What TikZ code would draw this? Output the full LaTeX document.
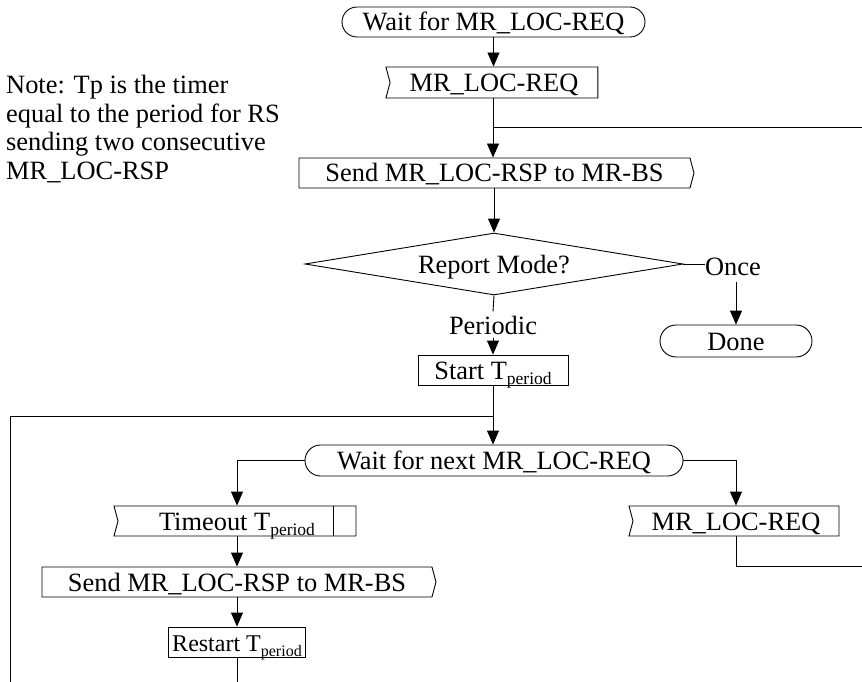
\documentclass[tikz,border=0pt]{standalone}
\usepackage{fontspec}
\setmainfont{Liberation Serif}
\usetikzlibrary{arrows.meta,shapes.misc,shapes.symbols,shapes.geometric,calc}
\newcommand\tsub[1]{\raisebox{-5.5pt}{\fontsize{17.5}{17.5}\selectfont #1}}
\newcommand\tsubs[1]{\raisebox{-5pt}{\fontsize{16}{16}\selectfont #1}}
\begin{document}
\begin{tikzpicture}[x=1pt,y=-1pt,
  every node/.style={font=\fontsize{26.4}{28.5}\selectfont},
  base/.style={draw,line width=0.9pt,inner sep=0pt,text height=23pt,text depth=5pt},
  proc/.style={base,rectangle},
  term/.style={base,rounded rectangle},
  recv/.style={base,signal,signal from=west,signal to=nowhere,signal pointer angle=150},
  sendsig/.style={base,signal,signal to=east,signal from=nowhere,signal pointer angle=150},
  dec/.style={base,diamond,aspect=6},
  lbl/.style={inner xsep=0pt},
  conn/.style={line width=0.9pt},
  arr/.style={conn,-{Triangle[length=14pt,width=12pt]}}
]
\useasboundingbox (0,0) rectangle (862,682);

% note
\node[anchor=north west,inner sep=0pt,align=left] (note) at (6,75)
  {Note: Tp is the timer\\equal to the period for RS\\sending two consecutive\\MR\_LOC-RSP};

% nodes
\node[term,minimum width=303,minimum height=30] (wait1) at (493.5,22) {Wait for MR\_LOC-REQ};
\node[recv,minimum width=212,minimum height=31] (req1) at (494,82.5) {MR\_LOC-REQ};
\node[sendsig,minimum width=395,minimum height=30] (send1) at (494.5,173) {Send MR\_LOC-RSP to MR-BS};
\node[dec,minimum width=378,minimum height=62] (dia) at (494,264) {Report Mode?};
\node[lbl,inner ysep=6pt] (once) at (733,267) {Once};
\node[term,minimum width=152,minimum height=32] (done) at (736,341) {Done};
\node[lbl,inner ysep=4pt] (per) at (493,325) {Periodic};
\node[proc,minimum width=150,minimum height=30] (start) at (493,370) {Start T\tsub{period}};
\node[term,minimum width=378,minimum height=31] (wait2) at (494,460.5) {Wait for next MR\_LOC-REQ};
\node[recv,minimum width=242,minimum height=30] (tout) at (237,521) {Timeout T\tsub{period}};
\node[recv,minimum width=210,minimum height=30] (req2) at (736,521) {MR\_LOC-REQ};
\node[sendsig,minimum width=394,minimum height=30] (send2) at (237,582) {Send MR\_LOC-RSP to MR-BS};
\node[proc,minimum width=102,minimum height=30,inner xsep=4pt,font=\fontsize{24}{26}\selectfont] (restart) at (237,642) {Restart T\tsubs{period}};

% timer mark inside timeout
\draw[conn] ([xshift=-23pt]tout.north east) -- ([xshift=-23pt]tout.south east);

% coordinates
\coordinate (r1) at (493,127);
\coordinate (rt1) at (862,127);
\coordinate (j1) at (493,416);
\coordinate (lc) at (10,416);
\coordinate (lb) at (10,682);
\coordinate (rt2) at (862,566);
\coordinate (bt) at (237,682);

% connectors
\draw[arr] (wait1.south) -- (wait1.south |- req1.north);
\draw[conn] (req1.south -| r1) -- (r1) -- (rt1);
\draw[arr] (r1) -- (r1 |- send1.north);
\draw[arr] (send1.south -| dia.north) -- (dia.north);
\draw[conn] (dia.east) -- (dia.east -| once.west);
\draw[arr] (once.south -| done.north) -- (done.north);
\draw[conn] (dia.south) -- (per.north);
\draw[arr] (per.south) -- (start.north);
\draw[conn] (start.south) -- (j1) -- (lc) -- (lb);
\draw[arr] (j1) -- (j1 |- wait2.north);
\draw[arr] (wait2.west) -| (tout.north);
\draw[arr] (wait2.east) -| (req2.north);
\draw[conn] (req2.south) |- (rt2);
\draw[arr] (tout.south) -- (send2.north -| tout.south);
\draw[arr] (send2.south -| restart.north) -- (restart.north);
\draw[conn] (restart.south) -- (bt);
\end{tikzpicture}
\end{document}
